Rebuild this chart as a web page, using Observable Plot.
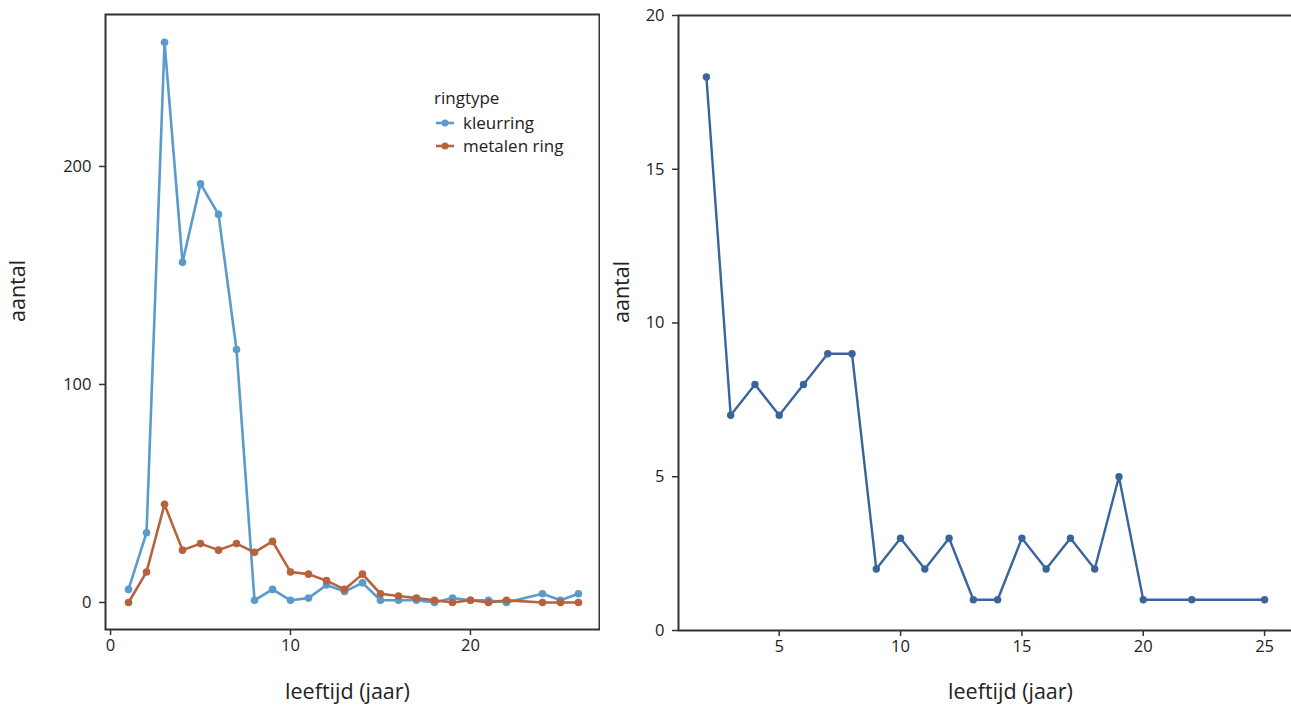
<!DOCTYPE html>
<html>
<head>
<meta charset="utf-8">
<script src="https://cdn.jsdelivr.net/npm/d3@7"></script>
<script src="https://cdn.jsdelivr.net/npm/@observablehq/plot@0.6"></script>
<style>
  html, body { margin: 0; padding: 0; background: #fff; }
  #wrap { position: relative; width: 1291px; height: 709px; overflow: hidden; font-family: "Open Sans", sans-serif; }
  #left { position: absolute; left: 0; top: 0; width: 620px; height: 709px; }
  #right { position: absolute; left: 600px; top: 0; width: 720px; height: 709px; }
  #wrap svg { max-width: none !important; }
  #legend { position: absolute; left: 434px; top: 86px; font-family: "Open Sans", sans-serif; color: #222; }
  #legend .title { font-size: 17px; height: 25px; }
  #legend .item { display: flex; align-items: center; font-size: 17px; height: 23px; }
  #legend svg { margin-right: 7px; }
</style>
</head>
<body>
<div id="wrap">
  <div id="left"></div>
  <div id="right"></div>
  <div id="legend"></div>
</div>
<script>
// Left panel: count per age, per ring type
const ages = [1,2,3,4,5,6,7,8,9,10,11,12,13,14,15,16,17,18,19,20,21,22,24,25,26];
const kleurring = [6,32,257,156,192,178,116,1,6,1,2,8,5,9,1,1,1,0,2,1,1,0,4,1,4];
const metalenRing = [0,14,45,24,27,24,27,23,28,14,13,10,6,13,4,3,2,1,0,1,0,1,0,0,0];
const ringtypes = ["kleurring", "metalen ring"];
const ringColors = ["#5a9bcb", "#b6623e"];

// Right panel
const ages2 = [2,3,4,5,6,7,8,9,10,11,12,13,14,15,16,17,18,19,20,22,25];
const counts2 = [18,7,8,7,8,9,9,2,3,2,3,1,1,3,2,3,2,5,1,1,1];
const rightColor = "#3a659c";

const leftTicksX = [0, 10, 20];
const leftTicksY = [0, 100, 200];
const rightTicksX = [5, 10, 15, 20, 25];
const rightTicksY = [0, 5, 10, 15, 20];

const xTitle = "leeftijd (jaar)";
const yTitle = "aantal";

const leftData = [];
ages.forEach((a, i) => {
  leftData.push({age: a, n: kleurring[i], type: ringtypes[0]});
  leftData.push({age: a, n: metalenRing[i], type: ringtypes[1]});
});
const rightData = ages2.map((a, i) => ({age: a, n: counts2[i]}));

const font = "Open Sans, sans-serif";

const left = Plot.plot({
  width: 620, height: 709,
  marginLeft: 105, marginRight: 21, marginTop: 14, marginBottom: 80,
  style: {fontFamily: font, fontSize: "16px", color: "#222", background: "white"},
  x: {domain: [-0.28, 27.17]},
  y: {domain: [-12.4, 269.7]},
  color: {domain: ringtypes, range: ringColors},
  marks: [
    Plot.frame({stroke: "#333", strokeWidth: 2}),
    Plot.axisX({ticks: leftTicksX, tickSize: 6, tickPadding: 4, stroke: "#333", strokeWidth: 1.5, label: null, fontSize: 16.5}),
    Plot.axisY({ticks: leftTicksY, tickSize: 6, tickPadding: 8, stroke: "#333", strokeWidth: 1.5, label: null, fontSize: 16.5}),
    Plot.text([xTitle], {frameAnchor: "bottom", dx: -5, dy: 63, lineAnchor: "middle", fontSize: 21.5, fill: "#222"}),
    Plot.text([yTitle], {frameAnchor: "left", dx: -87, rotate: -90, lineAnchor: "middle", fontSize: 21.5, fill: "#222"}),
    Plot.line(leftData, {x: "age", y: "n", stroke: "type", strokeWidth: 2.6}),
    Plot.dot(leftData, {x: "age", y: "n", fill: "type", r: 3.8})
  ]
});
document.getElementById("left").appendChild(left);

const right = Plot.plot({
  width: 720, height: 709,
  marginLeft: 78, marginRight: 20, marginTop: 15, marginBottom: 79,
  style: {fontFamily: font, fontSize: "16px", color: "#222", background: "white"},
  x: {domain: [0.85, 26.48]},
  y: {domain: [0, 20]},
  marks: [
    Plot.frame({stroke: "#333", strokeWidth: 2}),
    Plot.axisX({ticks: rightTicksX, tickSize: 6, tickPadding: 4, stroke: "#333", strokeWidth: 1.5, label: null, fontSize: 16.5}),
    Plot.axisY({ticks: rightTicksY, tickSize: 6, tickPadding: 8, stroke: "#333", strokeWidth: 1.5, label: null, fontSize: 16.5}),
    Plot.text([xTitle], {frameAnchor: "bottom", dx: 21, dy: 62, lineAnchor: "middle", fontSize: 21.5, fill: "#222"}),
    Plot.text([yTitle], {frameAnchor: "left", dx: -56, rotate: -90, lineAnchor: "middle", fontSize: 21.5, fill: "#222"}),
    Plot.line(rightData, {x: "age", y: "n", stroke: rightColor, strokeWidth: 2.4}),
    Plot.dot(rightData, {x: "age", y: "n", fill: rightColor, r: 3.7})
  ]
});
document.getElementById("right").appendChild(right);

// Legend
const legend = document.getElementById("legend");
const t = document.createElement("div");
t.className = "title";
t.textContent = "ringtype";
legend.appendChild(t);
ringtypes.forEach((name, i) => {
  const item = document.createElement("div");
  item.className = "item";
  item.innerHTML = `<svg width="22" height="10"><line x1="2" x2="20" y1="5" y2="5" stroke="${ringColors[i]}" stroke-width="2.6"/><circle cx="11" cy="5" r="3.5" fill="${ringColors[i]}"/></svg>`;
  const s = document.createElement("span");
  s.textContent = name;
  item.appendChild(s);
  legend.appendChild(item);
});
</script>
</body>
</html>
